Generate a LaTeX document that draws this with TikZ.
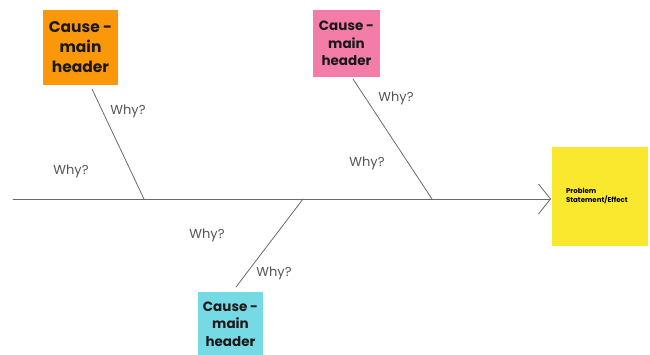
\documentclass[tikz,border=0pt]{standalone}
\usepackage{fontspec}
\setmainfont{Poppins}
\usepackage{tikz}
\usetikzlibrary{arrows.meta, calc, positioning}
\definecolor{causeorange}{RGB}{251, 152, 10}
\definecolor{causepink}{RGB}{243, 124, 168}
\definecolor{causecyan}{RGB}{118, 218, 228}
\definecolor{effectyellow}{RGB}{250, 232, 46}
\definecolor{bonegray}{RGB}{105, 105, 105}
\definecolor{whygray}{RGB}{85, 85, 85}
\tikzset{
  causebox/.style={minimum width=#1, minimum height=#1, inner sep=0pt, align=center,
    font=\fontsize{13.5}{17.5}\selectfont\bfseries, text=black!90},
  bone/.style={bonegray, line width=0.8pt},
  why/.style={font=\fontsize{13}{15}\selectfont, text=whygray}
}

\begin{document}
\begin{tikzpicture}[x=1pt, y=-1pt, line cap=round, line join=round]
    	\useasboundingbox (0,0) rectangle (650,354);
    	
    	\node[causebox=75pt, fill=causeorange, font=\fontsize{15.5}{20}\selectfont\bfseries] (orange) at (80.5,47.5) {Cause -\\main\\header};
    	\node[causebox=67pt, fill=causepink] (pink) at (346.5,43.5) {Cause -\\main\\header};
    	\node[causebox=64pt, fill=causecyan, minimum width=65pt] (cyan) at (230.5,324) {Cause -\\main\\header};
    	\node[fill=effectyellow, minimum width=96pt, minimum height=99pt, inner xsep=14pt,
    		text width=68pt, align=left, font=\fontsize{7}{9}\selectfont\bfseries] (effect) at (600,196.5) {Problem\\Statement/Effect};
    	
    	\coordinate (tail) at (13,199);
    	\coordinate (head) at (551,199);
    	
    	\coordinate (O1) at (92,89);
    	\coordinate (O2) at (144,199);
    	\coordinate (P1) at (353,79);
    	\coordinate (P2) at (432,199);
    	\coordinate (C1) at (236,287);
    	\coordinate (C2) at (303,199);
    	
		\draw [-{Straight Barb[length=12pt, width=30pt, line width=0.8pt]}, bone] (tail)--(head);
		\draw [bone] (O1)--(O2);
		\draw [bone] (P1)--(P2);
		\draw [bone] (C1)--(C2);
		
		\node[why] (w1) at (128,111) {Why?};
		\node[why] (w2) at (71,171) {Why?};
		\node[why] (w3) at (396,98) {Why?};
		\node[why] (w4) at (367,163) {Why?};
		\node[why] (w5) at (207,235) {Why?};
		\node[why] (w6) at (274,273) {Why?};
    \end{tikzpicture}
\end{document}
